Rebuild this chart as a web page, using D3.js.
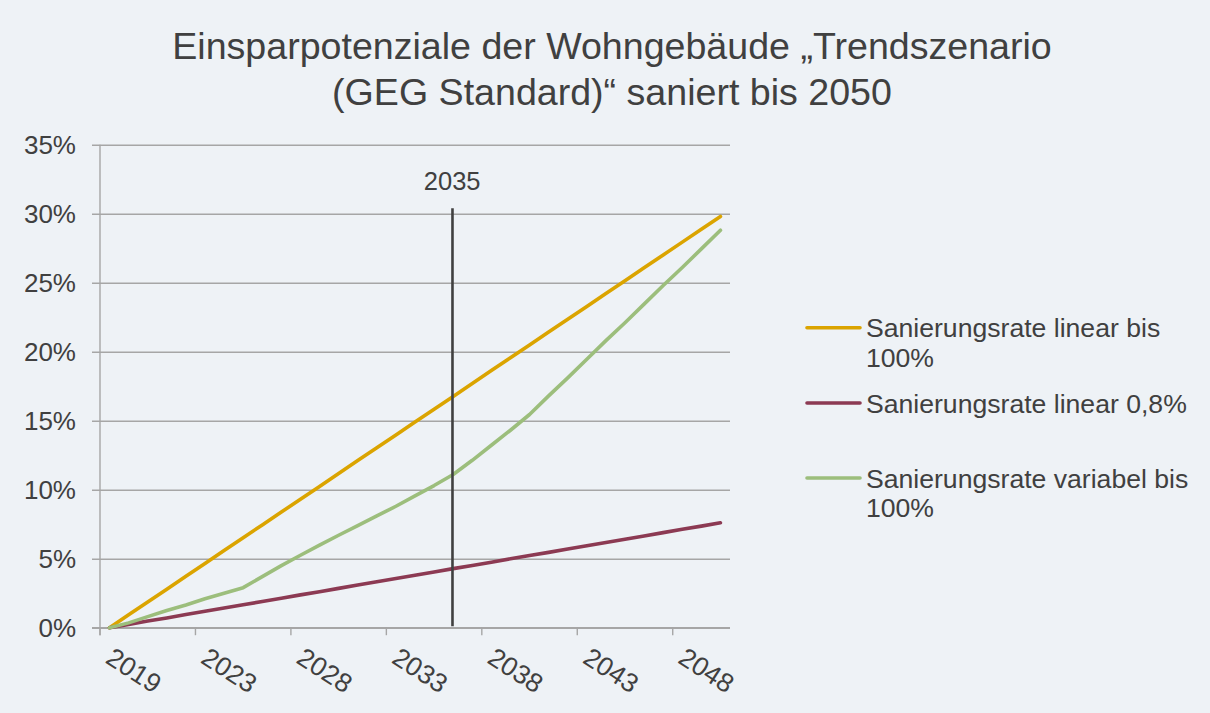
<!DOCTYPE html>
<html>
<head>
<meta charset="utf-8">
<script src="https://cdn.jsdelivr.net/npm/d3@7"></script>
<style>
  html, body { margin: 0; padding: 0; background: #EEF2F6; }
  svg { display: block; }
  text { font-family: "Liberation Sans", Arial, sans-serif; fill: #404040; }
</style>
</head>
<body>
<svg id="chart" width="1210" height="713"></svg>
<script>
// ---- data ----
const titleLines = ["Einsparpotenziale der Wohngebäude „Trendszenario", "(GEG Standard)“ saniert bis 2050"];
// 33 category slots; tick labels appear on every fifth slot
const categories = d3.range(33);
const tickLabels = ["2019", "2023", "2028", "2033", "2038", "2043", "2048"];
const yTicks = [0, 0.05, 0.10, 0.15, 0.20, 0.25, 0.30, 0.35];

const seriesNames = ["Sanierungsrate linear bis 100%", "Sanierungsrate linear 0,8%", "Sanierungsrate variabel bis 100%"];
const linear100 = [0, 0.93, 1.86, 2.79, 3.72, 4.66, 5.59, 6.52, 7.45, 8.38, 9.31, 10.24, 11.18, 12.11, 13.04, 13.97,
  14.90, 15.83, 16.76, 17.69, 18.63, 19.56, 20.49, 21.42, 22.35, 23.28, 24.21, 25.14, 26.08, 27.01, 27.94, 28.87, 29.80];
const linear08 = [0, 0.24, 0.48, 0.71, 0.95, 1.19, 1.43, 1.66, 1.90, 2.14, 2.38, 2.61, 2.85, 3.09, 3.33, 3.56,
  3.80, 4.04, 4.28, 4.51, 4.75, 4.99, 5.23, 5.46, 5.70, 5.94, 6.18, 6.41, 6.65, 6.89, 7.13, 7.36, 7.60];
const variabel100 = [0, 0.35, 0.80, 1.25, 1.65, 2.10, 2.50, 2.90, 3.70, 4.50, 5.25, 5.98, 6.70, 7.40, 8.10, 8.80,
  9.55, 10.30, 11.10, 12.13, 13.22, 14.31, 15.45, 16.80, 18.10, 19.45, 20.80, 22.10, 23.45, 24.80, 26.10, 27.45, 28.80];
const seriesColors = ["#DBA400", "#8C3A53", "#9CBE7C"];

const markerLabel = "2035";
const markerCategory = 18;   // slot where the vertical marker sits
const markerTop = 0.304;     // marker height in value units

// ---- drawing ----
const svg = d3.select("#chart");
const W = 1210, H = 713;
svg.append("rect").attr("width", W).attr("height", H).attr("fill", "#EEF2F6");

const plot = { left: 100, right: 730, top: 144.7, bottom: 627.7 };

const x = d3.scaleBand().domain(categories).range([plot.left, plot.right]).paddingInner(0).paddingOuter(0);
const cx = i => x(i) + x.bandwidth() / 2;
const y = d3.scaleLinear().domain([0, 0.35]).range([plot.bottom, plot.top]);

// title
const title = svg.append("text").attr("text-anchor", "middle").style("font-size", "37.6px");
titleLines.forEach((t, i) => {
  title.append("tspan").attr("x", 612).attr("y", 59 + i * 46).text(t);
});

// grid lines + y labels
const gridColor = "#A6A6A6";
const yAxis = d3.axisLeft(y).tickValues(yTicks).tickSize(-(plot.right - plot.left + 8)).tickPadding(16)
  .tickFormat(d => Math.round(d * 100) + "%");
const gy = svg.append("g").attr("transform", `translate(${plot.left - 8},0)`).call(yAxis);
gy.select(".domain").remove();
gy.selectAll(".tick line").attr("stroke", gridColor).attr("stroke-width", 1.4);
gy.selectAll(".tick text").style("font-size", "26px").attr("fill", "#404040");

// y axis line
svg.append("line").attr("x1", plot.left).attr("x2", plot.left)
  .attr("y1", plot.top).attr("y2", plot.bottom + 7.5)
  .attr("stroke", gridColor).attr("stroke-width", 1.4);

// x axis line and ticks (between categories, every 5 slots)
svg.append("line").attr("x1", plot.left - 8).attr("x2", plot.right)
  .attr("y1", plot.bottom).attr("y2", plot.bottom)
  .attr("stroke", gridColor).attr("stroke-width", 1.6);
const tickSlots = categories.filter(i => i % 5 === 0 && i <= 30);
svg.append("g").selectAll("line").data(tickSlots).join("line")
  .attr("x1", d => x(d)).attr("x2", d => x(d))
  .attr("y1", plot.bottom).attr("y2", plot.bottom + 7.5)
  .attr("stroke", gridColor).attr("stroke-width", 1.4);

// x labels, rotated
svg.append("g").selectAll("text").data(tickSlots).join("text")
  .attr("transform", d => `translate(${cx(d) + 5},646) rotate(33)`)
  .attr("dy", "0.72em")
  .attr("text-anchor", "start")
  .style("font-size", "26.5px")
  .text((d, i) => tickLabels[i]);

// series lines
const allSeries = [linear100, linear08, variabel100];
const line = d3.line().x((d, i) => cx(i)).y(d => y(d / 100));
allSeries.forEach((vals, k) => {
  svg.append("path").datum(vals)
    .attr("d", line)
    .attr("fill", "none")
    .attr("stroke", seriesColors[k])
    .attr("stroke-width", 3.6)
    .attr("stroke-linejoin", "round")
    .attr("stroke-linecap", "round");
});

// vertical marker
svg.append("line")
  .attr("x1", cx(markerCategory) - 0.7).attr("x2", cx(markerCategory) - 0.7)
  .attr("y1", y(markerTop)).attr("y2", y(0) - 1.5)
  .attr("stroke", "#404040").attr("stroke-width", 2.6);
svg.append("text")
  .attr("x", cx(markerCategory) - 1).attr("y", 190)
  .attr("text-anchor", "middle").style("font-size", "25.5px")
  .text(markerLabel);

// legend
const legendItems = [
  { name: seriesNames[0], lines: ["Sanierungsrate linear bis", "100%"], y: 327.7 },
  { name: seriesNames[1], lines: ["Sanierungsrate linear 0,8%"], y: 403 },
  { name: seriesNames[2], lines: ["Sanierungsrate variabel bis", "100%"], y: 478 }
];
const lg = svg.append("g");
legendItems.forEach((it, k) => {
  lg.append("line").attr("x1", 807).attr("x2", 860).attr("y1", it.y).attr("y2", it.y)
    .attr("stroke", seriesColors[k]).attr("stroke-width", 3.6).attr("stroke-linecap", "round");
  const t = lg.append("text").style("font-size", "26.6px");
  it.lines.forEach((ln, j) => {
    t.append("tspan").attr("x", 866).attr("y", it.y + 9.6 + j * 29.4).text(ln);
  });
});
</script>
</body>
</html>
